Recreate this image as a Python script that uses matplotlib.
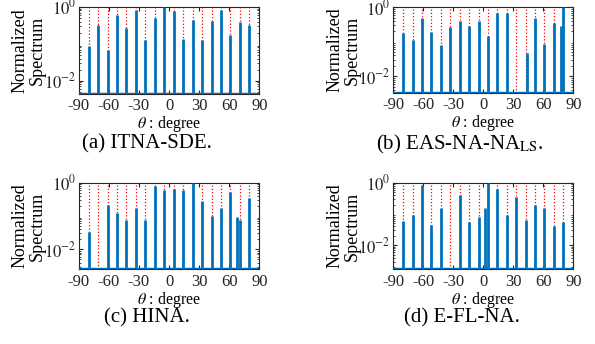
import numpy as np
import matplotlib.pyplot as plt
from matplotlib.ticker import LogLocator, NullFormatter

plt.rcParams['font.family'] = ['Liberation Serif', 'DejaVu Serif']
plt.rcParams['mathtext.fontset'] = 'stix'
plt.rcParams['axes.unicode_minus'] = False

# true directions (red dotted lines)
true_angles = [-80, -70.6, -61.2, -51.8, -42.4, -32.9, -23.5, -14.1, -4.7,
               4.7, 14.1, 23.5, 32.9, 42.4, 51.8, 61.2, 70.6, 80]

# (a) ITNA-SDE
a_angles = true_angles
a_heights = [0.088, 0.32, 0.067, 0.61, 0.26, 0.81, 0.13, 0.49, 1.0,
             0.75, 0.134, 0.45, 0.126, 0.41, 0.83, 0.168, 0.39, 0.33]
a_floor = 0.0044

# (b) EAS-NA-NA_LS
b_angles = [-80, -70.6, -61.2, -51.8, -42.4, -32.9, -23.5, -14.1, -4.7,
            4.7, 14.1, 23.5, 44.2, 51.8, 61.2, 70.6, 77.8, 80]
b_heights = [0.18, 0.11, 0.49, 0.19, 0.078, 0.26, 0.39, 0.28, 0.39,
             0.15, 0.67, 0.66, 0.048, 0.48, 0.087, 0.36, 0.28, 1.0]
b_floor = 0.0033

# (c) HINA
c_angles = [-80, -61.2, -51.8, -42.4, -32.9, -23.5, -14.1, -4.7, 4.7,
            14.1, 23.5, 32.9, 42.4, 51.8, 61.2, 67.4, 70.6, 80]
c_heights = [0.034, 0.21, 0.126, 0.076, 0.17, 0.076, 0.79, 0.6, 0.65,
             0.6, 1.0, 0.28, 0.10, 0.17, 0.54, 0.093, 0.076, 0.34]
c_floor = 0.0025

# (d) E-FL-NA
d_angles = [-80, -70.6, -61.2, -51.8, -42.4, -23.5, -14.1, -4.7, 2.1,
            4.7, 14.1, 23.5, 32.9, 42.4, 51.8, 61.2, 70.6, 80]
d_heights = [0.061, 0.093, 0.84, 0.045, 0.16, 0.40, 0.057, 0.082, 0.15,
             1.0, 0.61, 0.093, 0.36, 0.064, 0.19, 0.16, 0.042, 0.054]
d_floor = 0.0017

captions = ['(a) ITNA-SDE.', r'(b) EAS-NA-NA$_{\mathrm{LS}}$.', '(c) HINA.', '(d) E-FL-NA.']
xticks = [-90, -60, -30, 0, 30, 60, 90]

blue = '#0072BD'

fig = plt.figure(figsize=(5.95, 3.44), dpi=100)
positions = [[0.1323, 0.727, 0.3035, 0.253],
             [0.661, 0.730, 0.3025, 0.249],
             [0.1323, 0.217, 0.3035, 0.252],
             [0.661, 0.217, 0.3025, 0.252]]
cap_xy = [(0.247, 0.581), (0.773, 0.581), (0.247, 0.077), (0.776, 0.077)]
panels = [(a_angles, a_heights, a_floor), (b_angles, b_heights, b_floor),
          (c_angles, c_heights, c_floor), (d_angles, d_heights, d_floor)]

for pos, (ang, h, fl), cap, cxy in zip(positions, panels, captions, cap_xy):
    ax = fig.add_axes(pos)
    for t in true_angles:
        ax.axvline(t, color='red', ls=':', lw=0.9, zorder=1)
    ax.vlines(ang, fl, h, color=blue, lw=2.0, zorder=3)
    ax.axhline(fl, color=blue, lw=2.5, zorder=3)
    ax.set_yscale('log')
    ax.set_xlim(-90, 90)
    ax.set_ylim(fl, 1)
    ax.set_xticks(xticks)
    ax.set_xticklabels([str(v) for v in xticks])
    ax.set_yticks([1e-2, 1e0])
    ax.set_yticklabels([r'$10^{-2}$', r'$10^{0}$'])
    ax.yaxis.set_minor_locator(LogLocator(base=10, subs=np.arange(2, 10)))
    ax.yaxis.set_minor_formatter(NullFormatter())
    ax.tick_params(which='both', direction='in', top=True, right=True,
                   labelsize=12, colors='#262626')
    ax.tick_params(axis='x', pad=3)
    ax.tick_params(axis='y', pad=2)
    ax.tick_params(which='major', length=3)
    ax.tick_params(which='minor', length=1.5)
    for s in ax.spines.values():
        s.set_color('#262626')
        s.set_linewidth(0.8)
    ax.set_ylabel('Normalized\nSpectrum', fontsize=13, linespacing=1.05)
    ax.yaxis.set_label_coords(-0.18, 0.5)
    ax.set_xlabel(r'$\theta$ : degree', fontsize=11.5, labelpad=0)
    fig.text(cxy[0], cxy[1], cap, ha='center', va='center', fontsize=15)

fig.savefig('out.png', dpi=100)
